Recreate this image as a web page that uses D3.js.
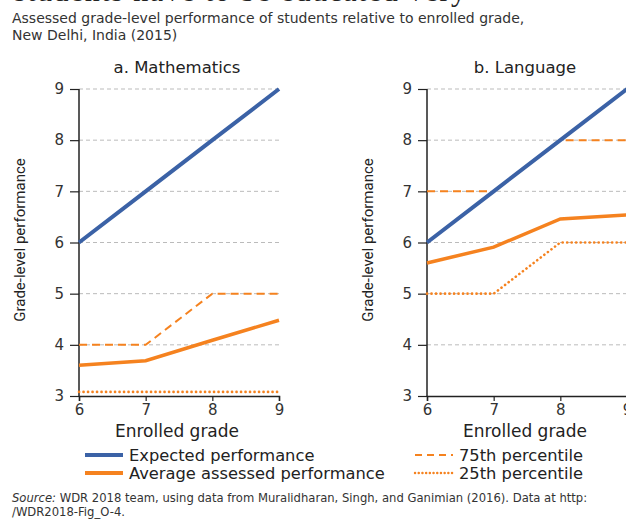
<!DOCTYPE html>
<html lang="en">
<head>
<meta charset="UTF-8">
<title>Assessed grade-level performance, New Delhi</title>
<script src="https://d3js.org/d3.v7.min.js"></script>
<style>
    body { margin: 0; background: #fff; font-family: "DejaVu Sans", sans-serif; }
    svg { display: block; }
    .grid line { stroke: #bbb; stroke-dasharray: 4,3; }
</style>
</head>
<body>
<svg id="chart" width="626" height="519"></svg>
<script>
// Data
const grades = [6, 7, 8, 9];
const yTicks = [3, 4, 5, 6, 7, 8, 9];

const mathExpected = [6, 7, 8, 9];
const mathAverage = [3.6, 3.69, 4.09, 4.48];
const mathP75 = [4, 4, 5, 5];
const mathP25 = [3.08, 3.08, 3.08, 3.08];

const langExpected = [6, 7, 8, 9];
const langAverage = [5.6, 5.91, 6.46, 6.54];
const langP75 = [7, 7, 8, 8];
const langP25 = [5, 5, 6, 6];

const blue = "#3b62a6";
const orange = "#f5821f";
const ink = "#222";

const svg = d3.select("#chart");

// cut-off line of body text above the figure
svg.append("text")
    .attr("x", 14).attr("y", 1)
    .style("font-family", "Liberation Serif, serif")
    .style("font-size", "30px")
    .style("letter-spacing", "1.5px")
    .style("fill", ink)
    .text("students have to be educated very");

// subtitle
svg.append("text").attr("x", 12).attr("y", 23)
    .style("font-size", "14px").style("fill", "#333")
    .text("Assessed grade-level performance of students relative to enrolled grade,");
svg.append("text").attr("x", 12).attr("y", 40)
    .style("font-size", "14px").style("fill", "#333")
    .text("New Delhi, India (2015)");

const panels = [
    { title: "a. Mathematics", x0: 79, expected: mathExpected, average: mathAverage, p75: mathP75, p25: mathP25 },
    { title: "b. Language", x0: 427, expected: langExpected, average: langAverage, p75: langP75, p25: langP25 }
];

const plotTop = 89, plotBottom = 396, plotW = 200;

panels.forEach(p => {
    const x = d3.scaleLinear().domain([6, 9]).range([p.x0, p.x0 + plotW]);
    const y = d3.scaleLinear().domain([3, 9]).range([plotBottom, plotTop]);

    svg.append("text")
        .attr("x", p.x0 + plotW / 2 - 2).attr("y", 73)
        .attr("text-anchor", "middle")
        .style("font-size", "16.5px").style("fill", ink)
        .text(p.title);

    // grid
    svg.append("g").attr("class", "grid")
        .selectAll("line")
        .data(yTicks.filter(t => t > 3))
        .join("line")
        .attr("x1", p.x0).attr("x2", p.x0 + plotW)
        .attr("y1", d => y(d)).attr("y2", d => y(d));

    // axes
    const ya = svg.append("g")
        .attr("transform", `translate(${p.x0},0)`)
        .call(d3.axisLeft(y).tickValues(yTicks).tickFormat(d3.format("d")).tickSize(9).tickPadding(6));
    const xa = svg.append("g")
        .attr("transform", `translate(0,${plotBottom})`)
        .call(d3.axisBottom(x).tickValues(grades).tickFormat(d3.format("d")).tickSize(5).tickPadding(3));
    [ya, xa].forEach(a => {
        a.select(".domain").attr("stroke", ink).attr("stroke-width", 1.5);
        a.selectAll(".tick line").attr("stroke", ink).attr("stroke-width", 1.2);
        a.selectAll(".tick text")
            .style("font-family", "DejaVu Sans, sans-serif")
            .style("font-size", "15px").style("fill", "#333");
    });
    ya.select(".domain").attr("d", `M0,${plotBottom}V${plotTop}`);

    svg.append("text")
        .attr("x", p.x0 + plotW / 2 - 2).attr("y", 437)
        .attr("text-anchor", "middle")
        .style("font-size", "17px").style("fill", ink)
        .text("Enrolled grade");

    svg.append("text")
        .attr("transform", `translate(${p.x0 - 54},240) rotate(-90)`)
        .attr("text-anchor", "middle")
        .style("font-family", "Liberation Sans Narrow, Roboto, sans-serif")
        .style("font-size", "15px").style("fill", ink)
        .text("Grade-level performance");

    const line = d3.line().x((d, i) => x(grades[i])).y(d => y(d));
    const series = [
        { v: p.p25, color: orange, width: 2.6, dash: "0.1,4.4", cap: "round" },
        { v: p.p75, color: orange, width: 2, dash: "8,5", cap: "butt" },
        { v: p.average, color: orange, width: 3.5, dash: null, cap: "butt" },
        { v: p.expected, color: blue, width: 4, dash: null, cap: "butt" }
    ];
    series.forEach(s => {
        svg.append("path")
            .datum(s.v)
            .attr("d", line)
            .attr("fill", "none")
            .attr("stroke", s.color)
            .attr("stroke-width", s.width)
            .attr("stroke-linecap", s.cap)
            .attr("stroke-dasharray", s.dash);
    });
});

// legend
const legend = [
    { label: "Expected performance", color: blue, width: 4, dash: null, cap: "butt", x: 85, y: 461 },
    { label: "Average assessed performance", color: orange, width: 4, dash: null, cap: "butt", x: 85, y: 479 },
    { label: "75th percentile", color: orange, width: 1.8, dash: "7,5", cap: "butt", x: 415, y: 461 },
    { label: "25th percentile", color: orange, width: 2.4, dash: "0.1,3.6", cap: "round", x: 415, y: 479 }
];
legend.forEach(l => {
    svg.append("line")
        .attr("x1", l.x).attr("x2", l.x + 38)
        .attr("y1", l.y - 6).attr("y2", l.y - 6)
        .attr("stroke", l.color).attr("stroke-width", l.width)
        .attr("stroke-linecap", l.cap)
        .attr("stroke-dasharray", l.dash);
    svg.append("text")
        .attr("x", l.x + 44).attr("y", l.y)
        .style("font-size", "16.3px").style("fill", ink)
        .text(l.label);
});

// source note
const src = svg.append("text").attr("x", 12).attr("y", 502)
    .style("font-size", "11.6px").style("fill", "#333");
src.append("tspan").style("font-style", "italic").text("Source:");
src.append("tspan").text(" WDR 2018 team, using data from Muralidharan, Singh, and Ganimian (2016). Data at http:");
svg.append("text").attr("x", 12).attr("y", 516)
    .style("font-size", "11.6px").style("fill", "#333")
    .text("/WDR2018-Fig_O-4.");
</script>
</body>
</html>
